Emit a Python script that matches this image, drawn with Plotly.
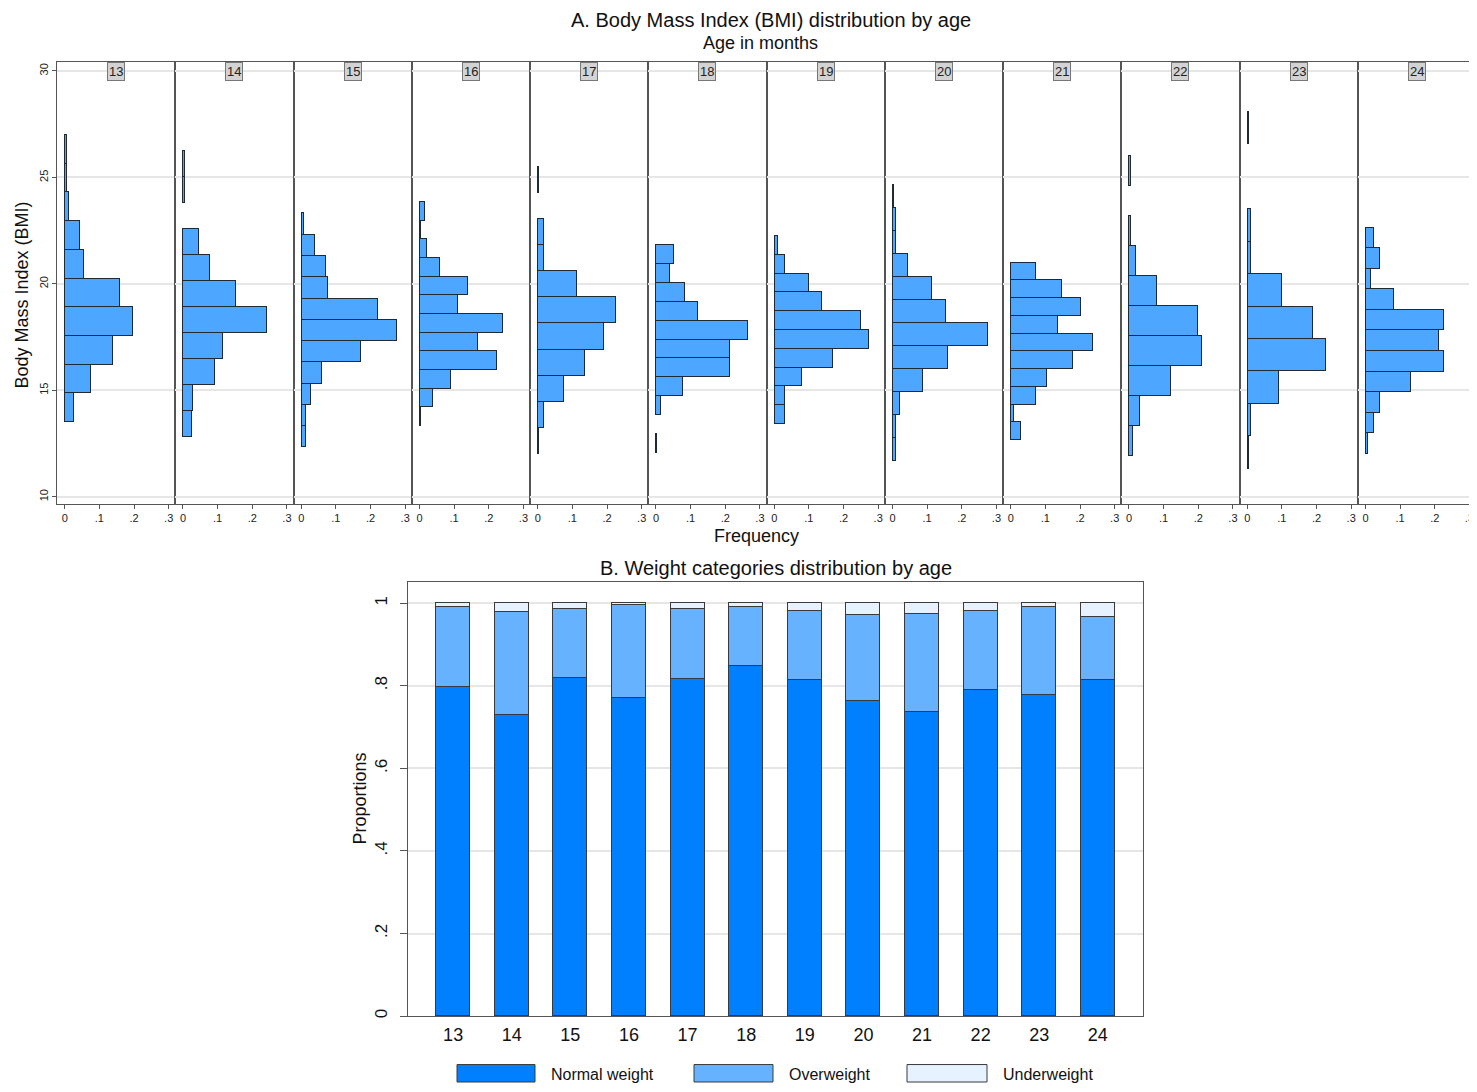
import plotly.graph_objects as go

# Browser page has an 8px body margin; figure is sized/positioned to compensate
# and kept short enough that the page does not scroll.
PAGE_W, PAGE_H = 1477, 1092
OFF = 8
W, H = PAGE_W - OFF, PAGE_H - 2 * OFF

AGES = [13, 14, 15, 16, 17, 18, 19, 20, 21, 22, 23, 24]

# Panel A: per-age histogram bins (BMI) - lower edge, bin width, densities bottom->top
BIN_LOW = [13.50, 12.81, 12.31, 13.31, 12.00, 12.06, 13.41, 11.66, 12.66, 11.89, 11.31, 12.00]
BIN_WIDTH = [1.348, 1.222, 0.999, 0.877, 1.227, 0.886, 0.883, 1.082, 0.833, 1.409, 1.523, 0.967]
FREQ_13 = [0.028, 0.076, 0.140, 0.198, 0.160, 0.055, 0.045, 0.013, 0.008, 0.008]
FREQ_14 = [0.026, 0.031, 0.094, 0.115, 0.243, 0.153, 0.079, 0.047, 0.0, 0.006, 0.006]
FREQ_15 = [0.011, 0.011, 0.028, 0.059, 0.172, 0.276, 0.221, 0.076, 0.071, 0.039, 0.006]
FREQ_16 = [0.005, 0.037, 0.091, 0.224, 0.169, 0.240, 0.111, 0.138, 0.058, 0.020, 0.005, 0.015]
FREQ_17 = [0.004, 0.018, 0.077, 0.136, 0.190, 0.227, 0.114, 0.018, 0.018, 0.0, 0.004]
FREQ_18 = [0.005, 0.0, 0.015, 0.080, 0.213, 0.213, 0.267, 0.121, 0.085, 0.042, 0.052]
FREQ_19 = [0.031, 0.031, 0.078, 0.169, 0.271, 0.249, 0.137, 0.100, 0.031, 0.010]
FREQ_20 = [0.010, 0.010, 0.020, 0.086, 0.160, 0.274, 0.155, 0.112, 0.043, 0.010, 0.010, 0.005]
FREQ_21 = [0.031, 0.009, 0.073, 0.105, 0.180, 0.236, 0.137, 0.202, 0.148, 0.073]
FREQ_22 = [0.012, 0.033, 0.123, 0.210, 0.199, 0.082, 0.021, 0.006, 0.0, 0.007]
FREQ_23 = [0.003, 0.009, 0.090, 0.225, 0.187, 0.100, 0.009, 0.009, 0.0, 0.0, 0.005]
FREQ_24 = [0.008, 0.023, 0.040, 0.130, 0.227, 0.211, 0.227, 0.083, 0.014, 0.040, 0.023]
FREQS = [FREQ_13, FREQ_14, FREQ_15, FREQ_16, FREQ_17, FREQ_18,
         FREQ_19, FREQ_20, FREQ_21, FREQ_22, FREQ_23, FREQ_24]

HIST_XTICKS = [0, 0.1, 0.2, 0.3]
HIST_XTICKTEXT = ["0", ".1", ".2", ".3"]
HIST_YTICKS = [10, 15, 20, 25, 30]

# Panel B: proportions by weight category
NORMAL = [0.797, 0.730, 0.819, 0.770, 0.816, 0.849, 0.813, 0.763, 0.737, 0.789, 0.779, 0.813]
OVERWEIGHT = [0.194, 0.248, 0.166, 0.225, 0.169, 0.142, 0.168, 0.209, 0.238, 0.192, 0.212, 0.154]
UNDERWEIGHT = [0.009, 0.022, 0.015, 0.005, 0.015, 0.009, 0.019, 0.028, 0.025, 0.019, 0.009, 0.033]
CATEGORIES = ["Normal weight", "Overweight", "Underweight"]
PROP_TICKS = [0, 0.2, 0.4, 0.6, 0.8, 1]
PROP_TICKTEXT = ["0", ".2", ".4", ".6", ".8", "1"]

FONT = "Liberation Sans, Arial, Helvetica, sans-serif"
HIST_COLOR = "#4da6ff"
CAT_COLORS = ["#0080ff", "#66b2ff", "#e6f2ff"]
LINE = "#555555"
GRID = "#e6e6e6"


def px(x):
    return (x - OFF) / W


def py(y):
    return 1 - (y - OFF) / H


def label(x, y, text, size, **kw):
    d = dict(x=px(x), y=py(y), xref="paper", yref="paper", showarrow=False,
             text=text, font=dict(size=size, family=FONT, color="#111"),
             xanchor="center", yanchor="middle")
    d.update(kw)
    return d


fig = go.Figure()
layout = dict(
    width=W, height=H, autosize=False,
    margin=dict(l=0, r=0, t=0, b=0, pad=0),
    paper_bgcolor="white", plot_bgcolor="white",
    font=dict(family=FONT, color="#111"),
    showlegend=False, barmode="stack", bargap=0,
)

# ---- Panel A ----
A_LEFT, A_RIGHT = 57, 1476
A_TOP, A_BOT = 62.3, 505
pw = (A_RIGHT - A_LEFT) / len(AGES)
annotations = []
for i, age in enumerate(AGES):
    k = i + 1
    freqs = FREQS[i]
    ys, xs, ws = [], [], []
    for j, f in enumerate(freqs):
        if f > 0:
            ys.append(BIN_LOW[i] + BIN_WIDTH[i] * (j + 0.5))
            xs.append(f)
            ws.append(BIN_WIDTH[i])
    fig.add_trace(go.Bar(
        orientation="h", x=xs, y=ys, width=ws,
        marker=dict(color=HIST_COLOR, line=dict(color="#1e2a36", width=1)),
        xaxis=f"x{k}", yaxis=f"y{k}", hoverinfo="x+y",
    ))
    x0 = px(A_LEFT + i * pw)
    x1 = min(px(A_LEFT + (i + 1) * pw), 0.9995)
    layout[f"xaxis{k}"] = dict(
        domain=[x0, x1], anchor=f"y{k}", range=[-0.0222, 0.3189],
        tickvals=HIST_XTICKS, ticktext=HIST_XTICKTEXT,
        ticks="outside", ticklen=4, tickcolor=LINE, ticklabeloverflow="allow",
        tickfont=dict(size=11, family=FONT, color="#222"),
        showline=True, linecolor=LINE, linewidth=1, mirror=True,
        showgrid=False, zeroline=False, fixedrange=True,
    )
    layout[f"yaxis{k}"] = dict(
        domain=[py(A_BOT), py(A_TOP)], anchor=f"x{k}", range=[9.66, 30.41],
        tickvals=HIST_YTICKS, showticklabels=(k == 1), tickangle=-90,
        ticks="outside" if k == 1 else "", ticklen=4, tickcolor=LINE,
        tickfont=dict(size=11, family=FONT, color="#222"),
        showline=True, linecolor=LINE, linewidth=1, mirror=True,
        showgrid=True, gridcolor=GRID, gridwidth=1.5, zeroline=False, fixedrange=True,
    )
    annotations.append(dict(
        x=(x0 + x1) / 2, y=py(71.5), xref="paper", yref="paper",
        text=str(age), showarrow=False, font=dict(size=13, family=FONT, color="#222"),
        bgcolor="#d3d3d3", bordercolor="#777", borderwidth=1, borderpad=1,
        xanchor="center", yanchor="middle",
    ))

annotations += [
    label(771, 20, "A. Body Mass Index (BMI) distribution by age", 20),
    label(760, 43, "Age in months", 18),
    label(756, 537, "Frequency", 18),
    label(22, 296, "Body Mass Index (BMI)", 18, textangle=-90),
    label(776, 569, "B. Weight categories distribution by age", 20),
    label(360, 800, "Proportions", 18, textangle=-90),
]

# ---- Panel B ----
for name, vals, col in zip(CATEGORIES, [NORMAL, OVERWEIGHT, UNDERWEIGHT], CAT_COLORS):
    fig.add_trace(go.Bar(
        x=AGES, y=vals, name=name, width=0.58,
        marker=dict(color=col, line=dict(color="#3a3a3a", width=1)),
        xaxis="x13", yaxis="y13",
    ))
layout["xaxis13"] = dict(
    domain=[px(408), px(1143)], anchor="y13", range=[12.23, 24.77],
    tickvals=AGES, ticks="", tickfont=dict(size=18, family=FONT, color="#111"),
    ticklabelstandoff=2,
    showline=True, linecolor=LINE, linewidth=1, mirror=True,
    showgrid=False, zeroline=False, fixedrange=True,
)
layout["yaxis13"] = dict(
    domain=[py(1018), py(583)], anchor="x13", range=[0, 1.0515],
    tickvals=PROP_TICKS, ticktext=PROP_TICKTEXT, tickangle=-90,
    ticks="outside", ticklen=7, tickcolor=LINE, ticklabelstandoff=6,
    tickfont=dict(size=17, family=FONT, color="#111"),
    showline=True, linecolor=LINE, linewidth=1, mirror=True,
    showgrid=True, gridcolor=GRID, gridwidth=1.5, zeroline=False, fixedrange=True,
)

# ---- Legend (custom wide swatches) ----
shapes = []
LEG = [(457, 535, 549), (694, 773, 787), (907, 987, 1001)]
for (sx0, sx1, tx), name, col in zip(LEG, CATEGORIES, CAT_COLORS):
    shapes.append(dict(type="rect", xref="paper", yref="paper",
                       x0=px(sx0), x1=px(sx1), y0=py(1084), y1=py(1066.5),
                       fillcolor=col, line=dict(color="#3a3a3a", width=1)))
    annotations.append(label(tx, 1076.5, name, 16, xanchor="left"))

layout["annotations"] = annotations
layout["shapes"] = shapes
fig.update_layout(**layout)
fig.write_html("out.html")
